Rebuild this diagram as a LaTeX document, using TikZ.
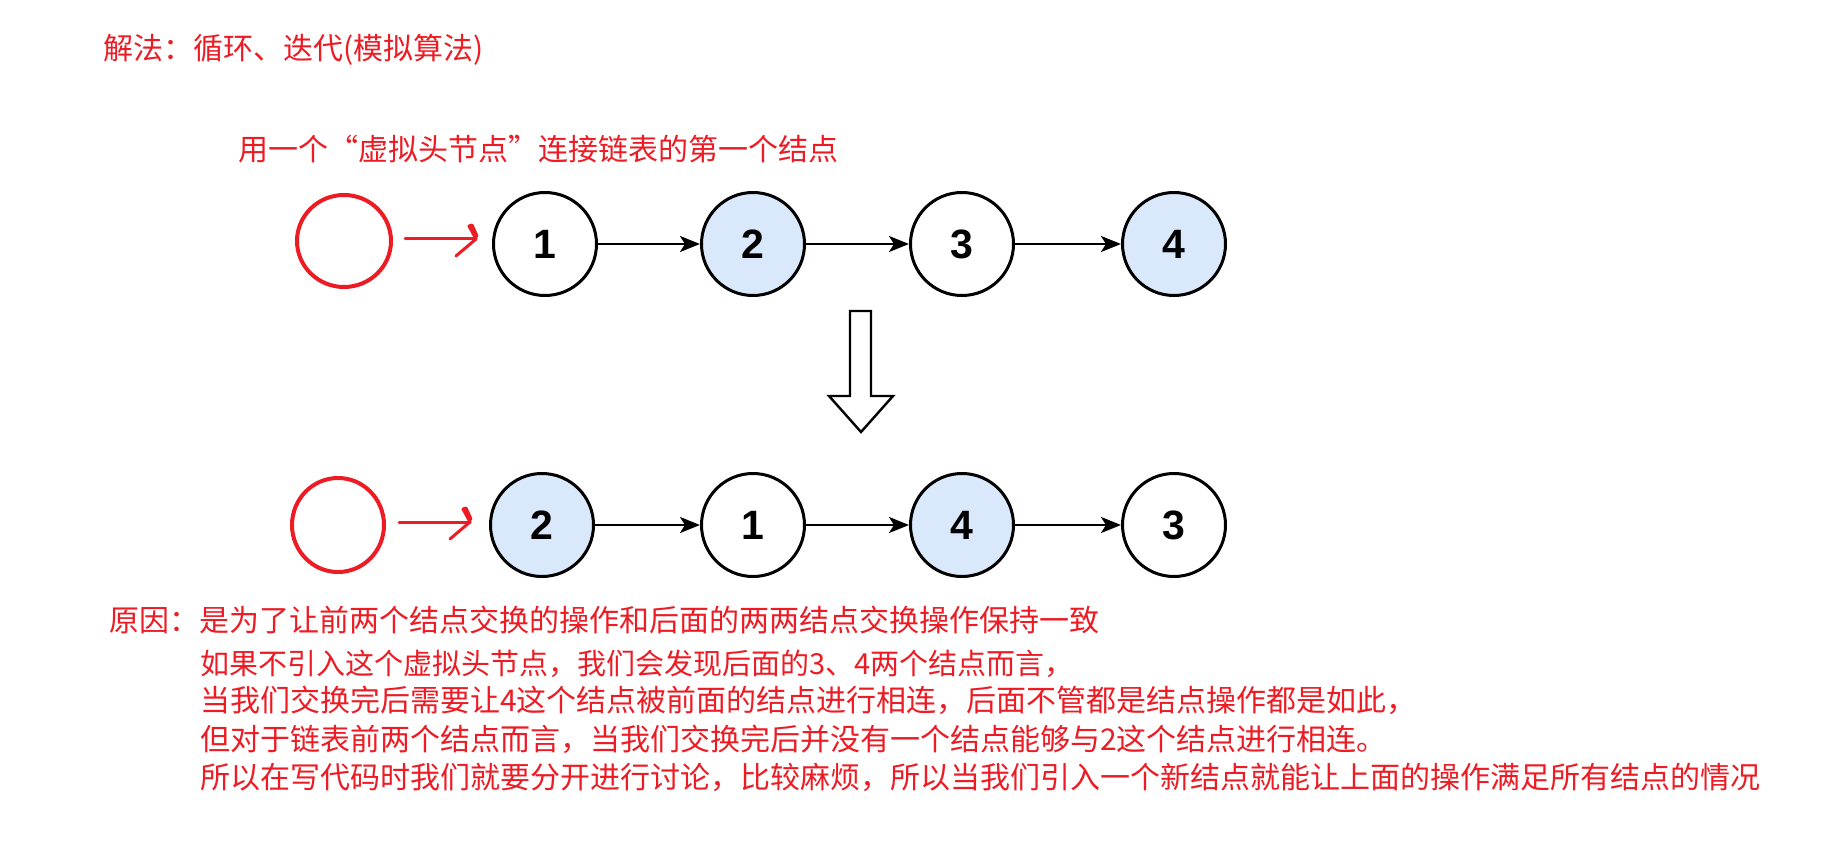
\documentclass[tikz,border=0pt]{standalone}
\usepackage{fontspec}
\setmainfont{Liberation Sans}
\newfontfamily\cjk{Noto Sans CJK SC}
\usetikzlibrary{arrows.meta,shapes.geometric}
\definecolor{redink}{RGB}{237,28,36}
\definecolor{nodeblue}{RGB}{218,232,252}
\begin{document}
\begin{tikzpicture}[x=1pt,y=-1pt,
  lnode/.style={circle,draw=black,line width=3pt,minimum size=103pt,inner sep=0pt,
    font=\fontsize{41}{41}\selectfont\bfseries},
  bluenode/.style={lnode,fill=nodeblue},
  whitenode/.style={lnode,fill=white},
  dummynode/.style={ellipse,draw=redink,line width=4pt,minimum width=94pt,minimum height=92pt,inner sep=0pt},
  link/.style={draw=black,line width=2.6pt,-{Stealth[length=20pt,width=16pt,inset=5pt]}},
  redpen/.style={draw=redink,line width=3pt,line cap=round,line join=round},
  redtext/.style={text=redink,font=\cjk\fontsize{30}{30}\selectfont,anchor=west,inner sep=0pt},
  hollow/.style={draw=black,line width=2.4pt,fill=white,line join=miter}
]
\useasboundingbox (0,0) rectangle (1840,850);

% titles
\node[redtext] (title) at (103,50) {解法：循环、迭代(模拟算法)};
\node[redtext] (sub) at (238,149) {用一个“虚拟头节点”连接链表的第一个结点};

% top row
\node[dummynode] (d1) at (344,241) {};
\node[whitenode] (t1) at (545,244) {1};
\node[bluenode]  (t2) at (753,244) {2};
\node[whitenode] (t3) at (962,244) {3};
\node[bluenode]  (t4) at (1174,244) {4};
\draw[link] (t1) -- (t2);
\draw[link] (t2) -- (t3);
\draw[link] (t3) -- (t4);
\coordinate (a1s) at (405,239);
\coordinate (a1e) at (476,239);
\draw[redpen] (a1s) -- (a1e);
\draw[redpen] (a1e) -- ++(-20,17);
\draw[redpen] (a1e) -- ++(-7,-13) -- ++(3,-1) -- ++(5,11);

% hollow arrow
\draw[hollow] (850,311) -- (871,311) -- (871,396) -- (893,396) -- (861,432)
  -- (829,396) -- (850,396) -- cycle;

% bottom row
\node[dummynode, minimum width=92pt, minimum height=94pt] (d2) at (338,525) {};
\node[bluenode]  (b2) at (542,525) {2};
\node[whitenode] (b1) at (753,525) {1};
\node[bluenode]  (b4) at (962,525) {4};
\node[whitenode] (b3) at (1174,525) {3};
\draw[link] (b2) -- (b1);
\draw[link] (b1) -- (b4);
\draw[link] (b4) -- (b3);
\coordinate (a2s) at (399,522);
\coordinate (a2e) at (470,522);
\draw[redpen] (a2s) -- (a2e);
\draw[redpen] (a2e) -- ++(-20,17);
\draw[redpen] (a2e) -- ++(-7,-13) -- ++(3,-1) -- ++(5,11);

% explanation
\node[redtext] (p1) at (109,620) {原因：是为了让前两个结点交换的操作和后面的两两结点交换操作保持一致};
\node[redtext, font=\cjk\fontsize{29}{29}\selectfont] (p2) at (200,664) {如果不引入这个虚拟头节点，我们会发现后面的3、4两个结点而言，};
\node[redtext] (p3) at (200,700) {当我们交换完后需要让4这个结点被前面的结点进行相连，后面不管都是结点操作都是如此，};
\node[redtext] (p4) at (200,739) {但对于链表前两个结点而言，当我们交换完后并没有一个结点能够与2这个结点进行相连。};
\node[redtext] (p5) at (200,777) {所以在写代码时我们就要分开进行讨论，比较麻烦，所以当我们引入一个新结点就能让上面的操作满足所有结点的情况};
\end{tikzpicture}
\end{document}
